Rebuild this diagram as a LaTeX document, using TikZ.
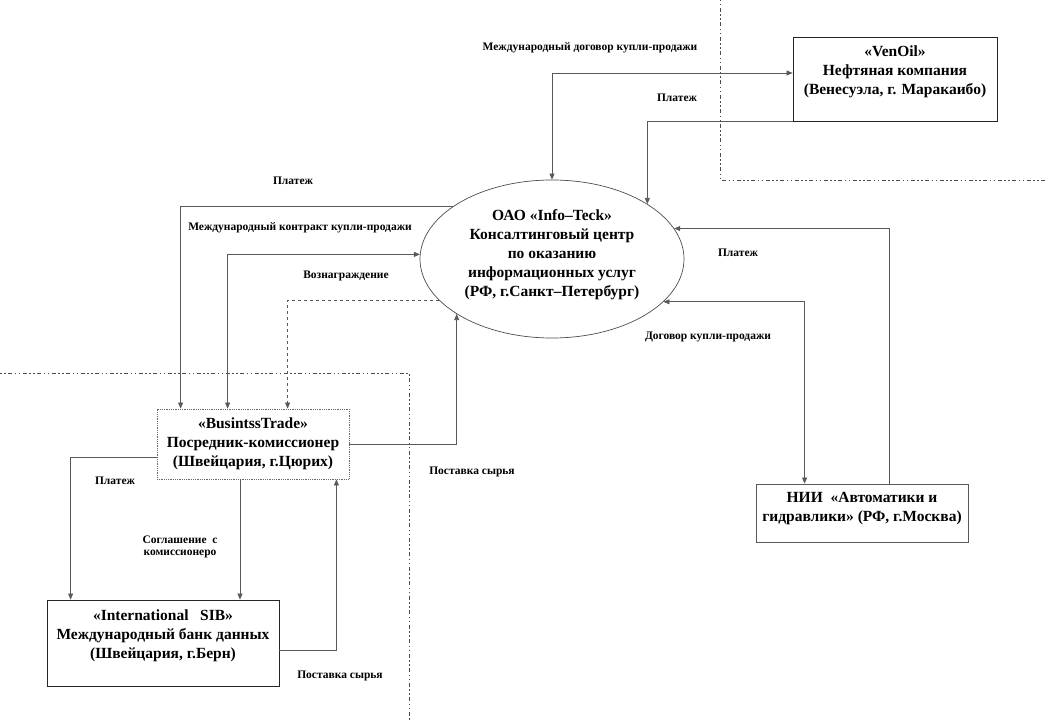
\documentclass[tikz,border=0pt]{standalone}
\usepackage{fontspec}
\setmainfont{Liberation Serif}
\usetikzlibrary{arrows.meta,shapes.geometric,positioning}

\begin{document}
\begin{tikzpicture}[
    x=1pt, y=-1pt,
    >={Triangle[length=6pt,width=5pt]},
    firm/.style={draw=black!85, line width=0.8pt, rectangle, align=center, inner sep=0pt,
      font=\fontsize{15.5}{19}\selectfont\bfseries},
    centre/.style={draw=black!70, line width=0.7pt, ellipse, align=center, inner sep=0pt,
      minimum width=264pt, minimum height=158pt, font=\fontsize{15.5}{19}\selectfont\bfseries},
    flow/.style={draw=black!65, line width=0.7pt},
    note/.style={inner sep=0pt, font=\fontsize{11.5}{12}\selectfont\bfseries},
    zone/.style={draw=black!70, line width=0.7pt,
      dash pattern=on 1.5pt off 2.5pt on 1.5pt off 2.5pt on 4pt off 2.5pt}
  ]
  \useasboundingbox (0,0) rectangle (1046,722);

  \draw[zone] (720,0) |- (1046,180);
  \draw[zone] (0,373) -| (409,722);

  \node[firm, minimum width=204pt, minimum height=84pt] (venoil) at (895,79)
    {«VenOil»\\ Нефтяная компания\\ (Венесуэла, г. Маракаибо)\\[-1pt]\mbox{}};
  \node[centre] (info) at (552,259)
    {ОАО «Info–Teck»\\ Консалтинговый центр\\ по оказанию\\ информационных услуг\\
     (РФ, г.Санкт–Петербург)\\[-8pt]\mbox{}};
  \node[firm, draw=black!60, densely dotted, minimum width=192pt, minimum height=70pt] (bt) at (253,444)
    {«BusintssTrade»\\ Посредник-комиссионер\\ (Швейцария, г.Цюрих)};
  \node[firm, minimum width=232pt, minimum height=86pt] (sib) at (163,643)
    {«International\ \ \ SIB»\\ Международный банк данных\\ (Швейцария, г.Берн)\\[-1pt]\mbox{}};
  \node[firm, draw=black!65, minimum width=212pt, minimum height=58pt] (nii) at (862,513)
    {НИИ\ \ «Автоматики и\\ гидравлики» (РФ, г.Москва)\\[-6pt]\mbox{}};

  \node[note] (dogovor) at (590,48) {Международный договор купли-продажи};
  \node[note] (platezh1) at (677,98) {Платеж};
  \node[note] (platezh2) at (293,181) {Платеж};
  \node[note] (kontrakt) at (300,228) {Международный контракт купли-продажи};
  \node[note] (voznagr) at (346,276) {Вознаграждение};
  \node[note] (platezh3) at (738,253) {Платеж};
  \node[note] (kuplia) at (708,337) {Договор купли-продажи};
  \node[note] (postavka1) at (472,472) {Поставка сырья};
  \node[note] (platezh4) at (115,481) {Платеж};
  \node[note, align=center] (soglash) at (180,547) {Соглашение\ \ с\\ комиссионеро};
  \node[note] (postavka2) at (340,676) {Поставка сырья};

  \draw[flow,<->] (info.north) |- ([yshift=6pt]venoil.west);
  \draw[flow,->] (venoil.south west) -| (info.30);
  \draw[flow,->] (info.152) -| ([xshift=24pt]bt.north west);
  \draw[flow,<->] ([xshift=71pt]bt.north west) |- (info.178);
  \draw[flow,dash pattern=on 3pt off 3pt,->] (info.200) -| ([xshift=131pt]bt.north west);
  \draw[flow,->] (bt.east) -| (info.210);
  \draw[flow,->] ([xshift=27pt]nii.north) |- (info.14);
  \draw[flow,<->] (info.-21) -| ([xshift=49pt]nii.north west);
  \draw[flow,->] ([yshift=-13pt]bt.west) -| ([xshift=24pt]sib.north west);
  \draw[flow,->] ([xshift=-13pt]bt.south) -- ([xshift=-13pt]bt.south |- sib.north);
  \draw[flow,->] ([yshift=-7pt]sib.east) -| ([xshift=-13pt]bt.south east);
\end{tikzpicture}
\end{document}
